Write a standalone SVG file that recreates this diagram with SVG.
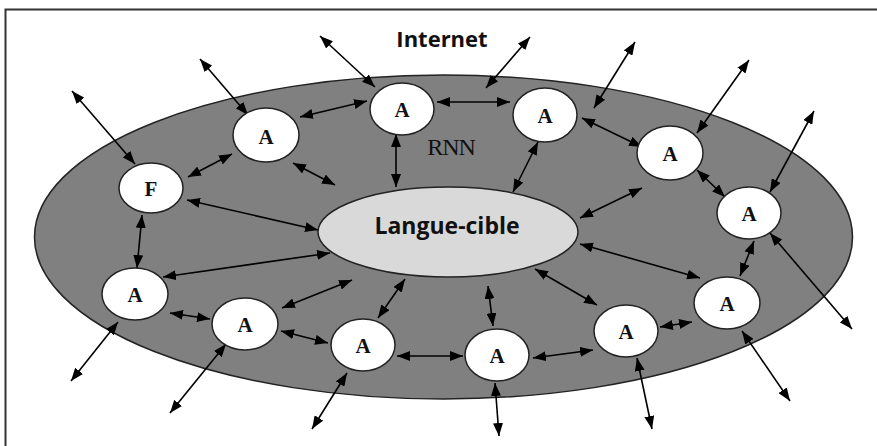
<svg xmlns="http://www.w3.org/2000/svg" width="877" height="446" viewBox="0 0 877 446">
<defs>
<marker id="ah" viewBox="0 0 13 10" refX="13" refY="5" markerWidth="13" markerHeight="10" markerUnits="userSpaceOnUse" orient="auto-start-reverse">
<path d="M0,0 L13,5 L0,10 z" fill="#000"/>
</marker>
<style>
.node ellipse{fill:#fff;stroke:#222;stroke-width:1.5}
.lbl{font-family:"Liberation Serif","Times New Roman",serif;font-weight:bold;font-size:21px;fill:#111;text-anchor:middle}
.conn line{stroke:#000;stroke-width:1.6;marker-start:url(#ah);marker-end:url(#ah)}
.sans{font-family:"Open Sans","Liberation Sans",sans-serif;font-weight:bold;fill:#111;text-anchor:middle}
</style>
</defs>
<rect width="877" height="446" fill="#fff"/>
<path d="M5.5,446 V9.5 H877" fill="none" stroke="#333" stroke-width="2"/>
<g id="rnn">
<ellipse cx="443.5" cy="237" rx="409" ry="162" fill="#808080" stroke="#222" stroke-width="1.5"/>
<text x="451" y="155" font-family="Liberation Serif,Times New Roman,serif" font-size="24" fill="#111" text-anchor="middle" letter-spacing="-1">RNN</text>
</g>
<text class="sans" x="442" y="47" font-size="22">Internet</text>
<g class="conn" id="connectors">
<line x1="72" y1="91" x2="135" y2="164"/>
<line x1="200" y1="59" x2="248" y2="115"/>
<line x1="320" y1="36" x2="375" y2="87"/>
<line x1="530" y1="37" x2="486" y2="88"/>
<line x1="635" y1="42" x2="594" y2="108"/>
<line x1="749" y1="60" x2="697" y2="133"/>
<line x1="814" y1="111" x2="770" y2="192"/>
<line x1="770" y1="233" x2="852" y2="329"/>
<line x1="742" y1="331" x2="790" y2="401"/>
<line x1="637" y1="358" x2="652" y2="429"/>
<line x1="495" y1="383" x2="499" y2="436"/>
<line x1="347" y1="373" x2="312" y2="429"/>
<line x1="226" y1="344" x2="170" y2="413"/>
<line x1="118" y1="322" x2="71" y2="381"/>
<line x1="188" y1="177" x2="232" y2="154"/>
<line x1="300" y1="117" x2="367" y2="101"/>
<line x1="437" y1="102" x2="510" y2="102"/>
<line x1="582" y1="118" x2="642" y2="147"/>
<line x1="697" y1="170" x2="725" y2="197"/>
<line x1="754" y1="241" x2="740" y2="276"/>
<line x1="692" y1="322" x2="660" y2="327"/>
<line x1="533" y1="358" x2="593" y2="350"/>
<line x1="397" y1="356" x2="463" y2="356"/>
<line x1="281" y1="331" x2="328" y2="343"/>
<line x1="282" y1="308" x2="352" y2="280"/>
<line x1="378" y1="318" x2="405" y2="279"/>
<line x1="488" y1="286" x2="493" y2="326"/>
<line x1="535" y1="269" x2="597" y2="305"/>
<line x1="580" y1="244" x2="700" y2="278"/>
<line x1="580" y1="218" x2="642" y2="188"/>
<line x1="538" y1="142" x2="513" y2="192"/>
<line x1="396" y1="134" x2="396" y2="187"/>
<line x1="293" y1="163" x2="335" y2="185"/>
<line x1="187" y1="200" x2="318" y2="230"/>
<line x1="163" y1="277" x2="330" y2="253"/>
<line x1="170" y1="313" x2="210" y2="319"/>
<line x1="142" y1="215" x2="137" y2="268"/>
</g>
<g id="langue-cible">
<ellipse cx="448" cy="232" rx="130" ry="45" fill="#d9d9d9" stroke="#222" stroke-width="1.5"/>
<text class="sans" x="447" y="234" font-size="23">Langue-cible</text>
</g>
<g id="nF" class="node"><ellipse cx="151" cy="188" rx="32" ry="25"/><text class="lbl" x="151" y="196">F</text></g>
<g id="nA1" class="node"><ellipse cx="266" cy="135" rx="33" ry="27"/><text class="lbl" x="266" y="144">A</text></g>
<g id="nA2" class="node"><ellipse cx="402" cy="109" rx="32" ry="26"/><text class="lbl" x="402" y="117">A</text></g>
<g id="nA3" class="node"><ellipse cx="545" cy="115" rx="32" ry="27"/><text class="lbl" x="545" y="123">A</text></g>
<g id="nA4" class="node"><ellipse cx="670" cy="153" rx="33" ry="27"/><text class="lbl" x="670" y="161">A</text></g>
<g id="nA5" class="node"><ellipse cx="749" cy="213" rx="32" ry="26"/><text class="lbl" x="749" y="221">A</text></g>
<g id="nA6" class="node"><ellipse cx="727" cy="303" rx="33" ry="26"/><text class="lbl" x="727" y="311">A</text></g>
<g id="nA7" class="node"><ellipse cx="626" cy="331" rx="32" ry="26"/><text class="lbl" x="626" y="339">A</text></g>
<g id="nA8" class="node"><ellipse cx="497" cy="355" rx="32" ry="26"/><text class="lbl" x="497" y="363">A</text></g>
<g id="nA9" class="node"><ellipse cx="363" cy="345" rx="32" ry="26"/><text class="lbl" x="363" y="353">A</text></g>
<g id="nA10" class="node"><ellipse cx="245" cy="324" rx="33" ry="26"/><text class="lbl" x="245" y="332">A</text></g>
<g id="nA11" class="node"><ellipse cx="135" cy="294" rx="33" ry="26"/><text class="lbl" x="135" y="302">A</text></g>
</svg>
